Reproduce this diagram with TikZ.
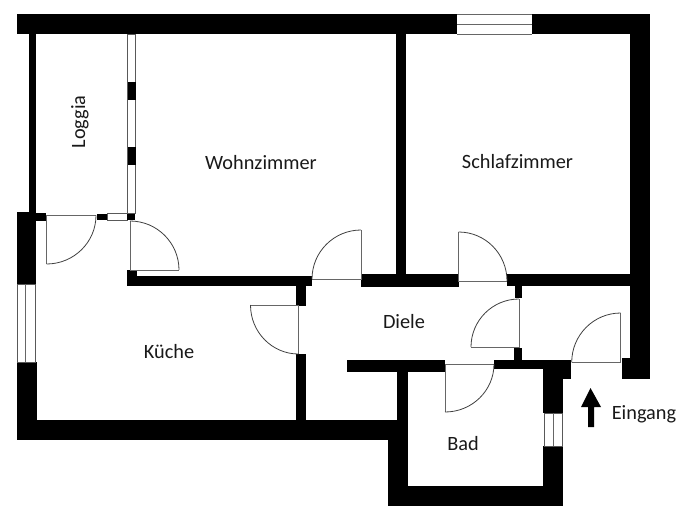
\documentclass[tikz,border=0pt]{standalone}
\usepackage{fontspec}
\setmainfont{Carlito}
\tikzset{
  wall/.style={fill=black,draw=none},
  pane/.style={draw=black!65,line width=0.7pt,fill=white},
  thinline/.style={draw=black!60,line width=0.7pt},
  leaf/.style={draw=black!60,line width=0.9pt},
  swing/.style={draw=black!75,line width=0.8pt},
  roomlabel/.style={font=\fontsize{20.3}{22}\selectfont,inner sep=0pt,text=black!90},
}
\begin{document}
\begin{tikzpicture}[x=1pt,y=-1pt]
\useasboundingbox (0,0) rectangle (684,520);
% outer and inner walls
\fill[wall] (17,14) rectangle (650,34);
\fill[wall] (630,14) rectangle (650,379);
\fill[wall] (622,358) rectangle (650,379);
\fill[wall] (29,34) rectangle (36,213);
\fill[wall] (16.5,212) rectangle (36,284);
\fill[wall] (36,213) rectangle (46,221);
\fill[wall] (16.5,362) rectangle (36.5,440);
\fill[wall] (16.5,420) rectangle (408,440);
\fill[wall] (388,420) rectangle (408,506);
\fill[wall] (397,360) rectangle (408,440);
\fill[wall] (388,486) rectangle (563,506);
\fill[wall] (347,360) rectangle (445,372);
\fill[wall] (494,359.5) rectangle (571,369);
\fill[wall] (543,359.5) rectangle (571,379);
\fill[wall] (543,379) rectangle (563,413);
\fill[wall] (543,446) rectangle (563,506);
\fill[wall] (396,34) rectangle (406,274);
\fill[wall] (361,274) rectangle (459,287);
\fill[wall] (507,274) rectangle (630,286);
\fill[wall] (127,276) rectangle (312,286);
\fill[wall] (127,270) rectangle (137,286);
\fill[wall] (296,286) rectangle (306,305.5);
\fill[wall] (296,354) rectangle (306,420);
\fill[wall] (515,286) rectangle (522,298);
\fill[wall] (514,348) rectangle (521.5,360);
\fill[wall] (97,213.5) rectangle (107,220);
% windows
\fill[white] (457,14) rectangle (532,34);
\draw[thinline] (457,14) -- (532,14) (457,24) -- (532,24) (457,34) -- (532,34);
\draw[pane] (17,284) rectangle (35,362);
\draw[thinline] (25.5,284) -- (25.5,362);
\draw[pane] (544,413) rectangle (562,446);
\draw[thinline] (553,413) -- (553,446);
\draw[pane] (127.5,34) rectangle (135.5,213);
\fill[wall] (127.5,82) rectangle (135.5,100);
\fill[wall] (127.5,147) rectangle (135.5,165);
\draw[pane] (107,213.5) rectangle (127,220);
\fill[wall] (127,213.5) rectangle (134.5,220);
% doors
\draw[leaf] (96,215.3) -- (46.5,215.3) -- (46.5,264);
\draw[swing] (96,215.3) arc[start angle=0,end angle=90,x radius=49.5,y radius=48.7];
\draw[leaf] (130,221) -- (130,270) -- (179,270);
\draw[swing] (130,221) arc[start angle=-90,end angle=0,radius=49];
\draw[leaf] (312,279) -- (361,279) -- (361,230);
\draw[swing] (312,279) arc[start angle=180,end angle=270,radius=49];
\draw[leaf] (250.5,305) -- (298.5,305) -- (298.5,354);
\draw[swing] (250.5,305) arc[start angle=180,end angle=90,x radius=48,y radius=49];
\draw[leaf] (507,281) -- (458.7,281) -- (458.7,232);
\draw[swing] (507,281) arc[start angle=0,end angle=-90,x radius=48.3,y radius=49];
\draw[leaf] (471,347) -- (519,347) -- (519,299);
\draw[swing] (471,347) arc[start angle=180,end angle=270,radius=48];
\draw[leaf] (571.7,362.3) -- (620.7,362.3) -- (620.7,313);
\draw[swing] (571.7,362.3) arc[start angle=180,end angle=270,x radius=49,y radius=49.3];
\draw[leaf] (494,364) -- (445,364) -- (445,412);
\draw[swing] (494,364) arc[start angle=0,end angle=90,x radius=49,y radius=48];
% arrow
\fill[wall] (590.5,388) -- (601,407) -- (594,407) -- (594,427) -- (588,427) -- (588,407) -- (581,407) -- cycle;
% labels
\node[roomlabel] (wohn) at (261,163) {Wohnzimmer};
\node[roomlabel] (schlaf) at (517.5,162) {Schlafzimmer};
\node[roomlabel] (kueche) at (169,352) {Küche};
\node[roomlabel] (diele) at (404,322) {Diele};
\node[roomlabel] (bad) at (463,444) {Bad};
\node[roomlabel] (eingang) at (644,414) {Eingang};
\node[roomlabel,rotate=90] (loggia) at (80,122) {Loggia};
\end{tikzpicture}
\end{document}
